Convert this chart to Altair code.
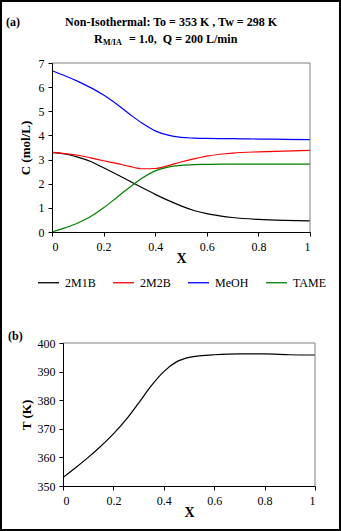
import altair as alt
import pandas as pd

W, H = 341, 531
FONT = "Liberation Serif"

# ---- data ----
species = ["2M1B", "2M2B", "MeOH", "TAME"]
colors = ["#000000", "#FF0000", "#0000FF", "#008000"]

x_conc = [0, 0.05, 0.1, 0.15, 0.2, 0.25, 0.3, 0.35, 0.4, 0.45, 0.5, 0.55, 0.6, 0.65, 0.7, 0.8, 0.9, 1.0]
c_2m1b = [3.30, 3.23, 3.10, 2.92, 2.66, 2.39, 2.11, 1.83, 1.56, 1.31, 1.08, 0.89, 0.76, 0.67, 0.60, 0.52, 0.48, 0.46]
c_2m2b = [3.30, 3.25, 3.18, 3.07, 2.95, 2.84, 2.72, 2.62, 2.63, 2.75, 2.90, 3.03, 3.14, 3.22, 3.27, 3.32, 3.35, 3.38]
c_meoh = [6.68, 6.47, 6.24, 5.98, 5.67, 5.30, 4.89, 4.50, 4.19, 4.01, 3.92, 3.89, 3.875, 3.87, 3.87, 3.85, 3.84, 3.83]
c_tame = [0.00, 0.17, 0.37, 0.64, 1.00, 1.42, 1.84, 2.24, 2.53, 2.69, 2.76, 2.79, 2.80, 2.81, 2.81, 2.81, 2.81, 2.81]

x_temp = [0, 0.05, 0.1, 0.15, 0.2, 0.25, 0.3, 0.35, 0.4, 0.45, 0.5, 0.55, 0.6, 0.7, 0.8, 0.9, 1.0]
temp = [353.0, 356.4, 360.0, 363.9, 368.2, 373.2, 379.0, 385.0, 390.0, 393.4, 395.0, 395.6, 395.9, 396.2, 396.2, 395.9, 395.8]

x_ticks = [0, 0.2, 0.4, 0.6, 0.8, 1]
c_ticks = [0, 1, 2, 3, 4, 5, 6, 7]
t_ticks = [350, 360, 370, 380, 390, 400]

title_a = "(a)"
title_b = "(b)"
title_line1 = "Non-Isothermal: To = 353 K , Tw = 298 K"
title_r = "R"
title_sub = "M/IA"
title_rest = "= 1.0,\u00a0\u00a0Q = 200 L/min"

# ---- tables ----
rows = []
for name, vals in zip(species, [c_2m1b, c_2m2b, c_meoh, c_tame]):
    for xv, cv in zip(x_conc, vals):
        rows.append({"X": xv, "C": cv, "Species": name})
conc_df = pd.DataFrame(rows)
temp_df = pd.DataFrame({"X": x_temp, "T": temp})
one = pd.DataFrame({"k": [0]})

common = dict(labelFont=FONT, labelFontSize=12, labelColor="black",
              titleFont=FONT, titleFontWeight="bold", titleColor="black",
              domainColor="black", tickColor="black", tickSize=4, grid=False, zindex=1)

FRAME = "#808080"

# ---- top panel ----
xa = alt.Scale(domain=[0, 1], range=[52, 310], nice=False, zero=False)
ya = alt.Scale(domain=[0, 7], range=[232, 63], nice=False, zero=False)

top_lines = alt.Chart(conc_df).mark_line(strokeWidth=1.2, interpolate="monotone").encode(
    x=alt.X("X:Q", scale=xa,
            axis=alt.Axis(orient="bottom", offset=-(H - 232), values=x_ticks, format="~g",
                          title="X", titleFontSize=14, labelPadding=5, titlePadding=-1, **common)),
    y=alt.Y("C:Q", scale=ya,
            axis=alt.Axis(orient="left", offset=-52, values=c_ticks, format="d", title="C (mol/L)",
                          titleFontSize=13, labelPadding=4, titlePadding=6, **common)),
    color=alt.Color("Species:N", scale=alt.Scale(domain=species, range=colors),
                    legend=alt.Legend(title=None, orient="none", legendX=37, legendY=271,
                                      direction="horizontal", columns=4, symbolType="stroke",
                                      symbolSize=441, symbolStrokeWidth=1.3, labelFont=FONT,
                                      labelFontSize=12, labelColor="black", labelOffset=5,
                                      columnPadding=14, padding=0)),
    order="X:Q",
)
top_edge_a = alt.Chart(one).mark_rule(color=FRAME, strokeWidth=1).encode(
    x=alt.datum(0), x2=alt.datum(1), y=alt.datum(7)
)
right_edge_a = alt.Chart(one).mark_rule(color=FRAME, strokeWidth=1).encode(
    x=alt.datum(1), y=alt.datum(0), y2=alt.datum(7)
)
top = alt.layer(top_lines, top_edge_a, right_edge_a)

# ---- bottom panel ----
xb = alt.Scale(domain=[0, 1], range=[63, 315], nice=False, zero=False)
yb = alt.Scale(domain=[350, 400], range=[486, 343], nice=False, zero=False)

bot_line = alt.Chart(temp_df).mark_line(strokeWidth=1.2, color="black", interpolate="monotone").encode(
    x=alt.X("X:Q", scale=xb,
            axis=alt.Axis(orient="bottom", offset=-(H - 486), values=x_ticks, format="~g",
                          title="X", titleFontSize=14, labelPadding=5, titlePadding=-1, **common)),
    y=alt.Y("T:Q", scale=yb,
            axis=alt.Axis(orient="left", offset=-63, values=t_ticks, format="d", title="T (K)",
                          titleFontSize=13, labelPadding=4, titlePadding=4, **common)),
)
top_edge_b = alt.Chart(one).mark_rule(color=FRAME, strokeWidth=1).encode(
    x=alt.datum(0), x2=alt.datum(1), y=alt.datum(400)
)
right_edge_b = alt.Chart(one).mark_rule(color=FRAME, strokeWidth=1).encode(
    x=alt.datum(1), y=alt.datum(350), y2=alt.datum(400)
)
bottom = alt.layer(bot_line, top_edge_b, right_edge_b)

# ---- text annotations ----
def label(txt, x, y, size=12, align="left"):
    return alt.Chart(one).mark_text(text=txt, font=FONT, fontSize=size, fontWeight="bold",
                                    align=align, baseline="middle", color="black").encode(
        x=alt.value(x), y=alt.value(y))

texts = [
    label(title_a, 6, 22),
    label(title_line1, 171, 22, align="center"),
    label(title_r, 94, 39),
    label(title_sub, 103, 43, size=8),
    label(title_rest, 129, 39),
    label(title_b, 8, 336),
]

chart = alt.layer(top, bottom, *texts).resolve_scale(
    x="independent", y="independent"
).properties(
    width=W, height=H, autosize=alt.AutoSizeParams(type="none"), padding=0,
    background="white"
).configure_view(stroke="black", strokeWidth=4)

chart.save("out.html", embed_options={"renderer": "svg", "actions": False})
